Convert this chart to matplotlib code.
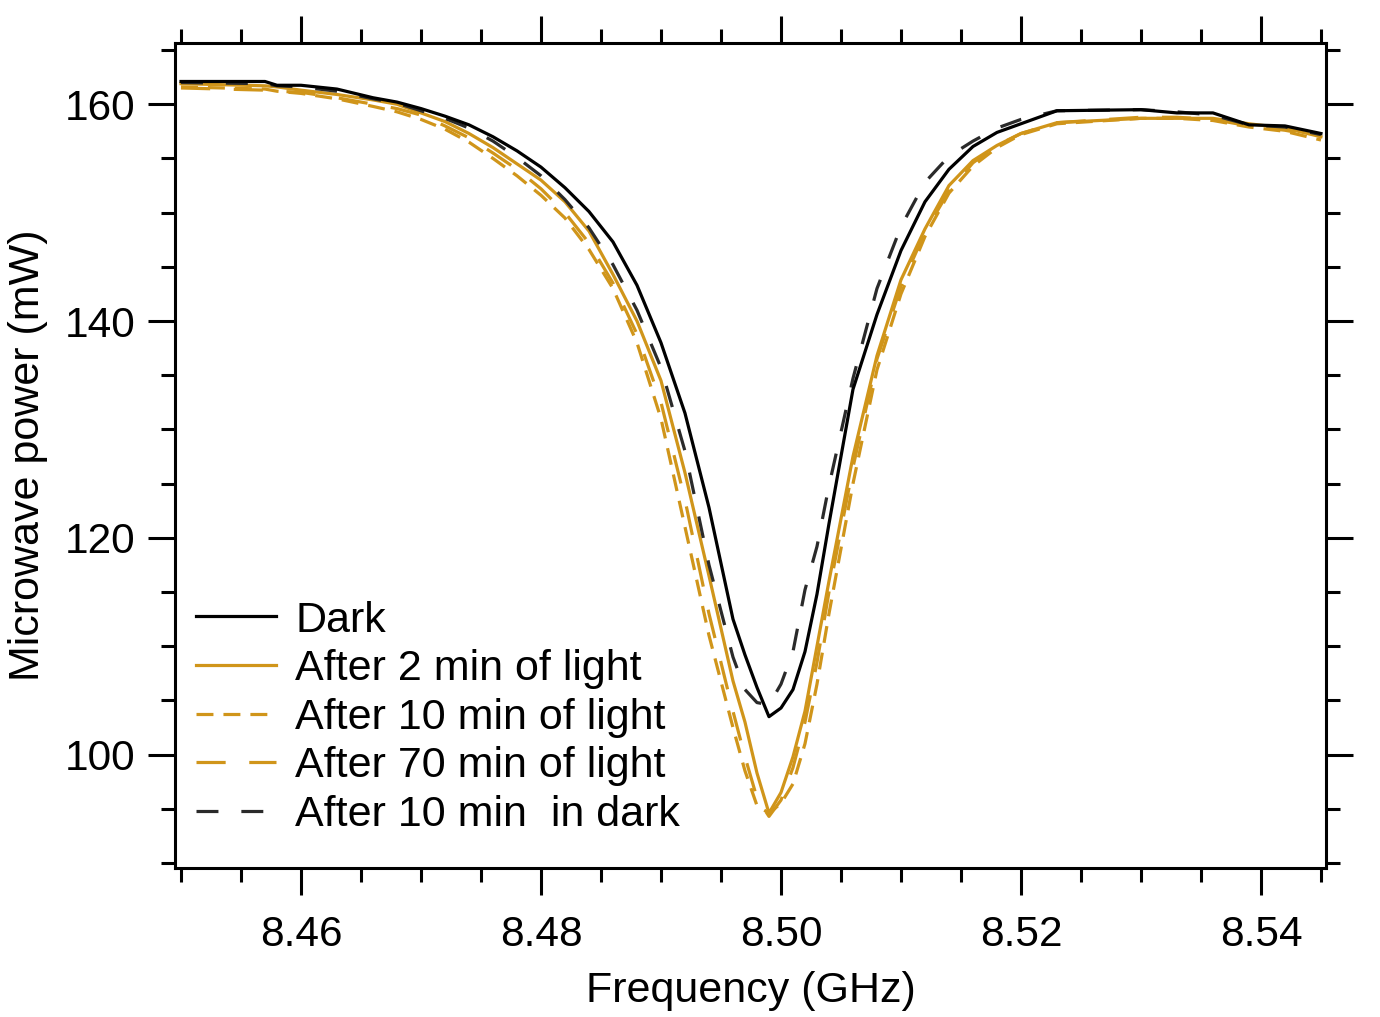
import matplotlib
matplotlib.use('Agg')
import matplotlib.pyplot as plt
from matplotlib.ticker import MultipleLocator

plt.rcParams['font.family'] = ['Liberation Sans', 'DejaVu Sans']
plt.rcParams['lines.scale_dashes'] = False

# Frequency grid (GHz)
freq = [8.450, 8.457, 8.458, 8.460, 8.463, 8.466, 8.468, 8.470, 8.472, 8.474,
        8.476, 8.478, 8.480, 8.482, 8.484, 8.486, 8.488, 8.490, 8.492, 8.494,
        8.496, 8.497, 8.498, 8.499, 8.500, 8.501, 8.502, 8.503, 8.504, 8.506,
        8.508, 8.510, 8.512, 8.514, 8.516, 8.518, 8.520, 8.523, 8.530, 8.533,
        8.536, 8.539, 8.542, 8.545]

# Microwave power (mW)
dark = [162.1, 162.1, 161.75, 161.75, 161.4, 160.6, 160.2, 159.6, 158.9, 158.1,
        157.0, 155.7, 154.2, 152.3, 150.1, 147.3, 143.3, 138.0, 131.5, 122.8,
        112.5, 109.2, 106.2, 103.5, 104.3, 106.0, 109.5, 114.8, 121.3, 133.7,
        140.6, 146.5, 151.0, 154.0, 156.1, 157.4, 158.2, 159.4, 159.5, 159.2,
        159.2, 158.1, 158.0, 157.3]
light_2min = [161.9, 161.7, 161.6, 161.3, 160.9, 160.4, 160.0, 159.2, 158.4, 157.3,
              156.0, 154.5, 153.0, 151.0, 148.3, 144.3, 140.0, 134.5, 126.0, 116.5,
              106.8, 103.0, 98.3, 94.6, 96.5, 99.8, 104.0, 110.0, 116.0, 127.5,
              136.8, 143.8, 148.5, 152.5, 154.8, 156.2, 157.3, 158.3, 158.7, 158.7,
              158.7, 158.2, 157.8, 157.0]
light_10min = [161.6, 161.4, 161.2, 161.0, 160.5, 159.8, 159.3, 158.6, 157.7, 156.5,
               155.0, 153.4, 151.6, 149.5, 146.6, 143.0, 138.0, 131.0, 121.0, 111.0,
               102.5, 98.5, 95.3, 94.6, 95.5, 97.3, 101.0, 106.5, 113.0, 125.0,
               135.5, 142.5, 147.8, 151.8, 154.3, 156.0, 157.2, 158.2, 158.7, 158.7,
               158.5, 157.9, 157.5, 156.7]
light_70min = [161.5, 161.3, 161.2, 161.1, 160.6, 160.0, 159.6, 159.0, 158.0, 156.9,
               155.5, 154.0, 152.2, 150.0, 147.2, 143.5, 138.8, 132.5, 123.5, 113.0,
               104.0, 99.8, 96.0, 94.3, 95.8, 98.8, 103.0, 108.5, 115.0, 126.5,
               136.5, 143.2, 148.2, 152.0, 154.6, 156.2, 157.3, 158.3, 158.8, 158.8,
               158.6, 158.0, 157.6, 157.0]
dark_10min = [162.0, 161.9, 161.7, 161.6, 161.2, 160.5, 160.1, 159.4, 158.7, 157.8,
              156.6, 155.1, 153.4, 151.2, 148.6, 145.2, 141.0, 135.7, 128.0, 117.5,
              109.0, 106.0, 104.8, 104.6, 106.5, 109.5, 115.2, 119.2, 124.8, 134.7,
              143.0, 148.7, 152.8, 155.2, 156.6, 157.8, 158.6, 159.4, 159.5, 159.3,
              159.0, 158.1, 157.9, 157.2]

labels = ["Dark", "After 2 min of light", "After 10 min of light",
          "After 70 min of light", "After 10 min  in dark"]

GOLD = '#D0951A'
FS_TICK = 30.5
FS = 31
LW = 2.3

fig = plt.figure(figsize=(13.8, 10.17), dpi=100)
ax = fig.add_axes([175/1380, 1 - 868/1017, (1326 - 175)/1380, (868 - 43)/1017])

ax.plot(freq, dark, color='black', lw=LW, label=labels[0], zorder=5)
ax.plot(freq, light_2min, color=GOLD, lw=LW, label=labels[1], zorder=4)
ax.plot(freq, light_10min, color=GOLD, lw=LW, dashes=(12.2, 7.2), label=labels[2], zorder=3)
ax.plot(freq, light_70min, color=GOLD, lw=LW, dashes=(21, 17), label=labels[3], zorder=3)
ax.plot(freq, dark_10min, color='#2a2a2a', lw=LW, dashes=(15.8, 16.5), label=labels[4], zorder=4)

ax.set_xlim(8.4495, 8.54542)
ax.set_ylim(89.54, 165.65)

ax.xaxis.set_major_locator(MultipleLocator(0.02))
ax.xaxis.set_minor_locator(MultipleLocator(0.005))
ax.yaxis.set_major_locator(MultipleLocator(20))
ax.yaxis.set_minor_locator(MultipleLocator(5))
ax.xaxis.set_major_formatter(plt.FuncFormatter(lambda v, p: f"{v:.2f}"))

for s in ax.spines.values():
    s.set_linewidth(2.2)

ax.tick_params(which='both', direction='out', top=True, right=True,
               width=2.2, labelsize=FS_TICK)
ax.tick_params(which='major', length=19.5)
ax.tick_params(which='minor', length=10)
ax.tick_params(axis='x', which='major', pad=14)
ax.tick_params(axis='y', which='major', pad=9)

ax.set_xlabel("Frequency (GHz)", fontsize=FS)
ax.set_ylabel("Microwave power (mW)", fontsize=FS)
ax.xaxis.set_label_coords(0.5004, -0.125)
ax.yaxis.set_label_coords(-0.110, 0.5)

ax.legend(loc='lower left', bbox_to_anchor=(0.018, 0.04), frameon=False,
          fontsize=FS, borderpad=0, borderaxespad=0, handlelength=1.86,
          handletextpad=0.45, labelspacing=0.2)

fig.savefig('out.png', dpi=100)
